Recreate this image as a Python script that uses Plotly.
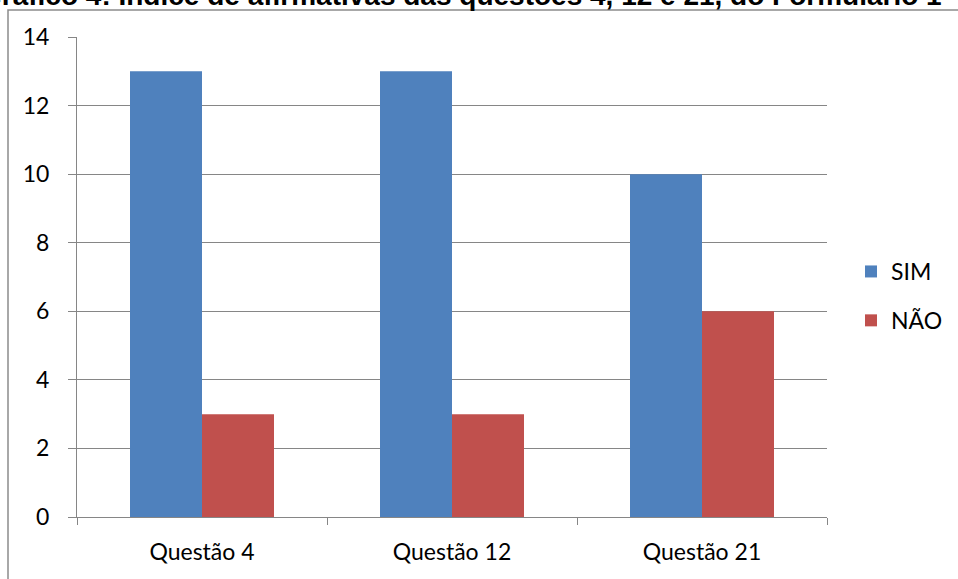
import plotly.graph_objects as go

# Data
categories = ["Questão 4", "Questão 12", "Questão 21"]
sim_values = [13, 13, 10]
nao_values = [3, 3, 6]
series_names = ["SIM", "NÃO"]
title_text = "Gráfico 4: Índice de afirmativas das questões 4, 12 e 21, do Formulário 1"

W, H = 958, 579
M_L, M_R, M_T, M_B = 77, 131, 37, 62
PW, PH = W - M_L - M_R, H - M_T - M_B

def px_x(px):
    return (px - M_L) / PW

def px_y(py):
    return (H - M_B - py) / PH

fig = go.Figure()
fig.add_trace(go.Bar(x=categories, y=sim_values, name=series_names[0],
                     marker=dict(color="#4F81BD", line=dict(width=0)),
                     legendgroup="a"))
fig.add_trace(go.Bar(x=categories, y=nao_values, name=series_names[1],
                     marker=dict(color="#C0504D", line=dict(width=0)),
                     legendgroup="b"))

axis_font = dict(family="Lato, 'Open Sans', sans-serif", size=23, color="#000000")

fig.update_layout(
    width=W, height=H,
    margin=dict(l=M_L, r=M_R, t=M_T, b=M_B, pad=0, autoexpand=False),
    paper_bgcolor="white", plot_bgcolor="white",
    barmode="group", bargap=0.424, bargroupgap=0,
    showlegend=True,
    legend=dict(x=px_x(851), y=px_y(296), xanchor="left", yanchor="middle",
                font=axis_font, tracegroupgap=16, traceorder="grouped",
                bgcolor="rgba(0,0,0,0)"),
    xaxis=dict(showline=True, linecolor="#868686", linewidth=1,
               ticks="outside", tickson="boundaries", ticklen=7,
               tickcolor="#868686", tickfont=axis_font, showgrid=False,
               ticklabelstandoff=14),
    yaxis=dict(range=[0, 14], dtick=2, showline=True, linecolor="#868686",
               linewidth=1, ticks="outside", ticklen=8, tickcolor="#868686",
               showgrid=True, gridcolor="#868686", gridwidth=1,
               tickfont=axis_font, zeroline=False, ticklabelstandoff=14),
)

# Outer chart frame (left and top edges)
fig.add_shape(type="rect", xref="paper", yref="paper",
              x0=px_x(8), x1=px_x(990), y0=px_y(620), y1=px_y(10),
              line=dict(color="#8C8C8C", width=1.5), layer="below")

# Title, partly above the page edge
fig.add_annotation(text="<b>" + title_text + "</b>", xref="paper", yref="paper",
                   x=px_x(-22), y=px_y(-5), xanchor="left", yanchor="middle",
                   showarrow=False,
                   font=dict(family="Liberation Sans, Arial, sans-serif", size=28,
                             color="#000000"))

fig.write_html("out.html")
